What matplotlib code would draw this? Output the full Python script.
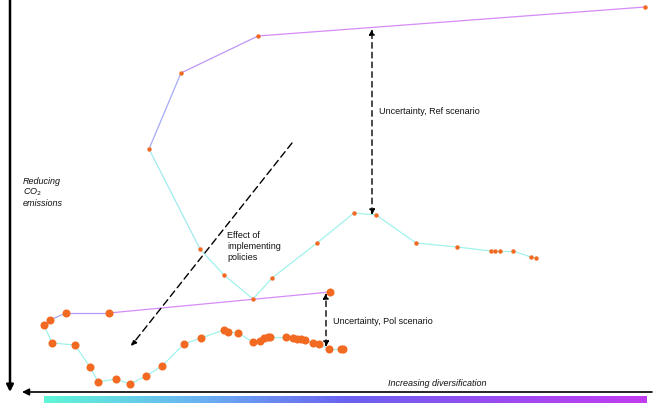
import numpy as np
import matplotlib
matplotlib.use("Agg")
import matplotlib.pyplot as plt
from matplotlib.collections import LineCollection
from matplotlib.colors import LinearSegmentedColormap

# =========================
# DATA (schematic in pixel units)
# =========================
# Reference scenario path
ref_x = [645, 258, 181, 149, 200, 224, 253, 272, 317, 354, 376, 416, 457,
         491, 495, 500, 513, 531, 536]
ref_y = [7, 36, 73, 149, 249, 275, 299, 278, 243, 213, 215, 243, 247,
         251, 251, 251, 251, 257, 258]
# colour of each segment on the diversification scale (0 = cyan, 1 = purple)
ref_c = [0.95, 0.7, 0.45, 0.1, 0.05, 0.05, 0.05, 0.05, 0.05, 0.05, 0.05,
         0.05, 0.05, 0.05, 0.05, 0.05, 0.05, 0.05]

# Policy scenario path
pol_x = [330, 109, 66, 50, 44, 52, 75, 90, 98, 116, 130, 146, 162, 184, 201,
         224, 228, 238, 253, 260, 264, 268, 270, 286, 293, 297, 301, 305, 313,
         319, 329, 341, 343]
pol_y = [292, 313, 313, 320, 325, 343, 345, 367, 382, 379, 384, 376, 366, 344,
         338, 330, 332, 333, 342, 341, 338, 337, 337, 337, 338, 339, 339, 340,
         343, 344, 349, 349, 349]
pol_c = [0.95, 0.6, 0.45, 0.3] + [0.05] * 28

# Annotation arrows
ref_unc = (372, 215, 29)      # x, y_low, y_high
pol_unc = (326, 347, 293)
policy_arrow = ((292, 143), (131, 346))

bar_colors = ["#5ff7d8", "#6ab4f2", "#6a62f0", "#9a4cf0", "#c23cf2"]
cmap = LinearSegmentedColormap.from_list("div", bar_colors)
ORANGE = "#f26a21"

# =========================
# FIGURE
# =========================
fig = plt.figure(figsize=(6.58, 4.04), dpi=100)
ax = fig.add_axes([0, 0, 1, 1])
ax.set_xlim(0, 658)
ax.set_ylim(404, 0)
ax.axis("off")


def draw_path(xs, ys, cs, ms):
    pts = np.column_stack([xs, ys])
    segs = np.stack([pts[:-1], pts[1:]], axis=1)
    lc = LineCollection(segs, colors=[cmap(c) for c in cs], linewidths=0.9,
                        alpha=0.6, zorder=2)
    ax.add_collection(lc)
    ax.plot(xs, ys, "o", color=ORANGE, ms=ms, mec="none", zorder=3)


draw_path(ref_x, ref_y, ref_c, 3.2)
draw_path(pol_x, pol_y, pol_c, 5.8)
# the first ref point is drawn tiny
ax.plot(ref_x[0], ref_y[0], "o", color=ORANGE, ms=2, mec="none", zorder=4)

# axes arrows
ax.annotate("", xy=(10, 392), xytext=(10, 0),
            arrowprops=dict(arrowstyle="-|>", color="black", lw=1.8,
                            mutation_scale=10, shrinkA=0, shrinkB=0))
ax.annotate("", xy=(22, 392), xytext=(652, 392),
            arrowprops=dict(arrowstyle="-|>", color="black", lw=1.2,
                            mutation_scale=10, shrinkA=0, shrinkB=0))

# gradient bar
grad = np.linspace(0, 1, 256).reshape(1, -1)
ax.imshow(grad, cmap=cmap, aspect="auto", extent=(44, 647, 403, 396), zorder=1)

# dashed uncertainty arrows
for x, y0, y1 in (ref_unc, pol_unc):
    ax.annotate("", xy=(x, y1), xytext=(x, y0),
                arrowprops=dict(arrowstyle="<|-|>", color="black", lw=1,
                                linestyle=(0, (4, 3)), mutation_scale=8,
                                shrinkA=0, shrinkB=0))
(sx, sy), (ex, ey) = policy_arrow
ax.annotate("", xy=(ex, ey), xytext=(sx, sy),
            arrowprops=dict(arrowstyle="-|>", color="black", lw=1,
                            linestyle=(0, (5, 3)), mutation_scale=8,
                            shrinkA=0, shrinkB=0))

# labels
font = dict(family="Liberation Sans", fontsize=6.5, color="#111111")
ax.text(379, 112, "Uncertainty, Ref scenario", va="center", **font)
ax.text(333, 321, "Uncertainty, Pol scenario", va="center", **font)
ax.text(227, 231, "Effect of\nimplementing\npolicies", va="top",
        linespacing=1.25, **font)
ax.text(23, 177, "Reducing\nCO$_2$\nemissions", va="top", style="italic",
        linespacing=1.1, **font)
ax.text(388, 384, "Increasing diversification", va="center", style="italic",
        **font)

fig.savefig("out.png", dpi=100)
